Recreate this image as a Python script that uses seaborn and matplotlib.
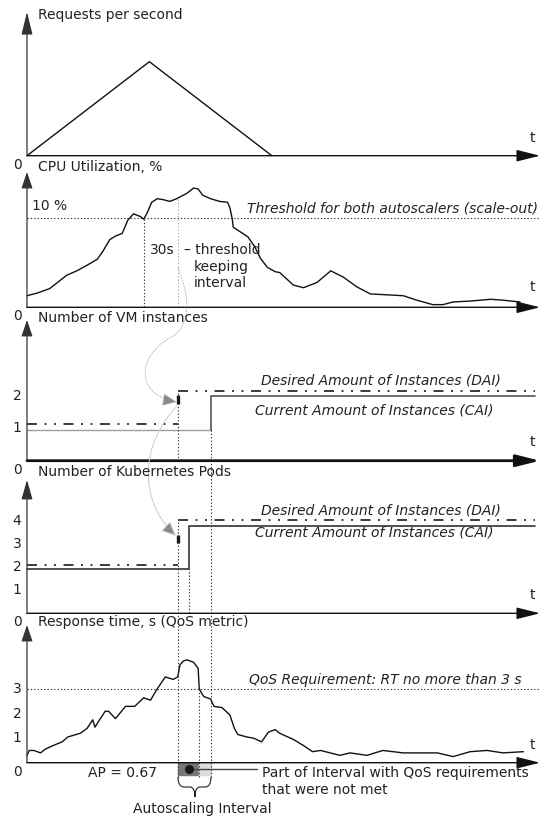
import matplotlib
matplotlib.use('Agg')
import matplotlib.pyplot as plt
from matplotlib.path import Path
from matplotlib.patches import FancyArrowPatch, PathPatch
import seaborn as sns

sns.set_theme(style='white')
plt.rcParams['font.family'] = ['DejaVu Sans']
plt.rcParams['font.size'] = 10

# key moments, seconds
t_cross = 103   # CPU goes over the threshold
t_dai = 133     # +30 s, desired amount changes
t_k8s = 143     # new pods ready
t_rt_ok = 152   # RT back under 3 s
t_vm = 162      # new VM ready
t_end = 448

# requests per second
req_t = [0, 108, 216]
req_val = [0, 100, 0]

# CPU utilization, %
cpu_t = [0, 9, 20, 28, 35, 44, 54, 62, 67, 73, 78, 84, 89, 94, 100, 103, 106, 110, 115, 120,
         126, 132, 141, 147, 151, 155, 162, 170, 177, 179, 181, 182, 188, 195, 201, 206, 212, 219, 223, 235,
         244, 256, 268, 279, 291, 303, 318, 332, 344, 358, 367, 376, 391, 409, 420, 435]
cpu_val = [1.3, 1.6, 2.1, 2.9, 3.6, 4.1, 4.8, 5.4, 6.3, 7.6, 8.0, 8.3, 9.8, 10.5, 10.2, 9.9, 10.6, 11.8, 12.2, 12.1,
           11.9, 12.2, 12.8, 13.4, 13.3, 12.6, 12.2, 11.9, 11.8, 11.2, 10.0, 9.0, 8.5, 7.9, 6.8, 5.5, 4.5, 4.0, 3.9, 2.5,
           2.2, 2.8, 4.1, 3.4, 2.3, 1.5, 1.4, 1.3, 0.8, 0.3, 0.3, 0.6, 0.7, 0.9, 0.8, 0.6]
cpu_threshold = 10
cpu_at_dai = 12.3

# instances
vm_cai_t = [0, t_vm, t_end]
vm_cai = [0.96, 2.0, 2.0]
vm_dai = [1.12, 2.15]
vm_ticks = [1, 2]
k8s_cai_t = [0, t_k8s, t_end]
k8s_cai = [1.92, 3.8, 3.8]
k8s_dai = [2.1, 4.05]
k8s_ticks = [1, 2, 3, 4]

# response time, s
rt_t = [0, 2, 6, 12, 16, 23, 31, 36, 47, 53, 58, 60, 64, 69, 72, 78, 87, 95, 103, 109,
        114, 122, 129, 133, 135, 138, 141, 147, 151, 152, 156, 162, 165, 172, 179, 183, 186, 194, 200, 207,
        213, 219, 223, 235, 244, 252, 259, 276, 285, 300, 314, 332, 347, 362, 376, 391, 406, 420, 438]
rt_val = [0.3, 0.5, 0.5, 0.4, 0.55, 0.7, 0.85, 1.05, 1.2, 1.4, 1.75, 1.45, 1.75, 2.1, 2.1, 1.8, 2.3, 2.3, 2.65, 2.55,
          2.95, 3.5, 3.4, 3.5, 4.0, 4.15, 4.2, 4.1, 3.85, 3.0, 2.7, 2.6, 2.3, 2.25, 1.95, 1.4, 1.15, 1.05, 1.0, 0.85,
          1.25, 1.35, 1.2, 0.95, 0.7, 0.45, 0.5, 0.3, 0.4, 0.3, 0.5, 0.4, 0.4, 0.4, 0.25, 0.45, 0.5, 0.4, 0.45]
rt_req = 3
rt_ticks = [1, 2, 3]
ap = 0.67

W, H = 545, 819
K = 34 / 30      # px per second
X0 = 27          # px of t = 0
X_TIP = (540 - X0) / K
INK = '#222222'
DOT = (0, (1.2, 1.8))
DASHDOT = (0, (6, 4.5, 1.2, 4.5, 1.2, 4.5))

fig = plt.figure(figsize=(W / 100, H / 100), dpi=100)


def panel(top, bottom, y0, unit):
    ax = fig.add_axes([0, 1 - bottom / H, 1, (bottom - top) / H])
    ax.set_xlim(-X0 / K, (W - X0) / K)
    ax.set_ylim((y0 - bottom) / unit, (y0 - top) / unit)
    ax.set_axis_off()
    return ax


def arrows(ax, ytop, xlw=1.0, ylen=1.0):
    ax.annotate('', xy=(0, ytop), xytext=(0, 0),
                arrowprops=dict(arrowstyle=f'-|>,head_length={ylen},head_width=0.34', mutation_scale=10,
                                lw=0.9, color='#333333', shrinkA=0, shrinkB=0))
    ax.annotate('', xy=(X_TIP, 0), xytext=(0, 0),
                arrowprops=dict(arrowstyle='-|>,head_length=1.44,head_width=0.36', mutation_scale=10,
                                lw=xlw, color='#111111', shrinkA=0, shrinkB=0))
    ax.annotate('0', (0, 0), xytext=(-4, -6.5), textcoords='offset points',
                ha='right', va='center', color=INK)


def ticks(ax, vals):
    for v in vals:
        ax.annotate(str(v), (0, v), xytext=(-4, 0), textcoords='offset points',
                    ha='right', va='center', color=INK)


ax1 = panel(0, 163, 155.7, 0.94)
ax2 = panel(163, 315, 307.3, 8.9)
ax3 = panel(315, 468, 460.7, 32.5)
ax4 = panel(468, 620, 613.3, 23)
ax5 = panel(620, 819, 762.7, 24.5)

# requests
sns.lineplot(x=req_t, y=req_val, ax=ax1, color='#111111', lw=1)
arrows(ax1, 153, ylen=1.4)

# CPU
sns.lineplot(x=cpu_t, y=cpu_val, ax=ax2, color='#111111', lw=1, estimator=None, sort=False)
ax2.hlines(cpu_threshold, 0, X_TIP, colors='#333333', lw=0.8, linestyles=[DOT])
ax2.vlines(t_cross, 0, cpu_threshold, colors='#333333', lw=0.8, linestyles=[DOT])
ax2.vlines(t_dai, 0, cpu_at_dai, colors='#aaaaaa', lw=0.8, linestyles=[DOT])
arrows(ax2, 15.2)

# VM instances
ax3.hlines(vm_cai[0], vm_cai_t[0], vm_cai_t[1], colors='#a0a0a0', lw=1)
ax3.plot([vm_cai_t[1], vm_cai_t[1], vm_cai_t[2]], [vm_cai[0], vm_cai[1], vm_cai[2]], color='#555555', lw=1.2)
ax3.hlines(vm_dai, [0, t_dai], [t_dai, t_end], colors='k', lw=1.2, linestyles=[DASHDOT])
ax3.vlines(t_dai, 0, vm_dai[1], colors='#333333', lw=0.8, linestyles=[DOT])
ax3.vlines(t_dai, 1.76, 2.03, colors='k', lw=2.4, zorder=5)
ax3.vlines(t_vm, ax3.get_ylim()[0], vm_cai[0], colors='#333333', lw=0.8, linestyles=[DOT])
arrows(ax3, 4.33, xlw=2.0)
ticks(ax3, vm_ticks)

# Kubernetes pods
ax4.step(k8s_cai_t, k8s_cai, where='post', color='#333333', lw=1.2)
ax4.hlines(k8s_dai, [0, t_dai], [t_dai, t_end], colors='k', lw=1.2, linestyles=[DASHDOT])
ax4.vlines(t_dai, ax4.get_ylim()[0], k8s_dai[1], colors='#333333', lw=0.8, linestyles=[DOT])
ax4.vlines(t_dai, 3.04, 3.42, colors='k', lw=2.4, zorder=5)
ax4.vlines(t_k8s, 0, k8s_cai[0], colors='#333333', lw=0.8, linestyles=[DOT])
ax4.vlines(t_vm, *ax4.get_ylim(), colors='#333333', lw=0.8, linestyles=[DOT])
arrows(ax4, 5.8, ylen=1.2)
ticks(ax4, k8s_ticks)

# response time
sns.lineplot(x=rt_t, y=rt_val, ax=ax5, color='#111111', lw=1, estimator=None, sort=False)
ax5.hlines(rt_req, 0, X_TIP, colors='#333333', lw=0.8, linestyles=[DOT])
ax5.broken_barh([(t_dai, t_rt_ok - t_dai)], (-0.5, 0.5), color='#777777')
ax5.broken_barh([(t_rt_ok, t_vm - t_rt_ok)], (-0.5, 0.5), color='#dddddd')
top5 = ax5.get_ylim()[1]
ax5.vlines([t_dai, t_vm], -0.58, top5, colors='#333333', lw=0.8, linestyles=[DOT])
ax5.vlines(t_rt_ok, -0.58, rt_req, colors='#333333', lw=0.8, linestyles=[DOT])
mid = (t_dai + t_rt_ok) / 2
ax5.plot([mid, 203], [-0.27, -0.27], color='#444444', lw=1)
ax5.plot(mid, -0.27, 'o', color='k', ms=5.5)
arrows(ax5, 5.62)
ticks(ax5, rt_ticks)

# overlay in pixels for text and connectors
ov = fig.add_axes([0, 0, 1, 1])
ov.set_xlim(0, W)
ov.set_ylim(H, 0)
ov.set_axis_off()

titles = [(15, 'Requests per second'), (167, 'CPU Utilization, %'), (318, 'Number of VM instances'),
          (472, 'Number of Kubernetes Pods'), (622, 'Response time, s (QoS metric)')]
for y, s in titles:
    ov.text(38, y, s, ha='left', va='center', color=INK)
for y in [138, 287, 442, 595, 745]:
    ov.text(532, y, 't', ha='center', va='center', color=INK)

ov.text(32, 206, '10 %', ha='left', va='center', color=INK)
ov.text(538, 208, 'Threshold for both autoscalers (scale-out)', ha='right', va='center',
        style='italic', color=INK)
ov.text(150, 250, '30s', ha='left', va='center', color=INK)
ov.text(184, 250, '– threshold', ha='left', va='center', color=INK)
ov.text(194, 267, 'keeping', ha='left', va='center', color=INK)
ov.text(194, 283, 'interval', ha='left', va='center', color=INK)

for y_dai, y_cai in [(380, 411), (511, 533)]:
    ov.text(381, y_dai, 'Desired Amount of Instances (DAI)', ha='center', va='center',
            style='italic', color=INK)
    ov.text(374, y_cai, 'Current Amount of Instances (CAI)', ha='center', va='center',
            style='italic', color=INK)

ov.text(522, 680, 'QoS Requirement: RT no more than 3 s', ha='right', va='center',
        style='italic', color=INK)
ov.text(122, 773, f'AP = {ap}', ha='center', va='center', color=INK)
ov.text(262, 773, 'Part of Interval with QoS requirements', ha='left', va='center', color=INK)
ov.text(262, 790, 'that were not met', ha='left', va='center', color=INK)
ov.text(202, 809, 'Autoscaling Interval', ha='center', va='center', color=INK)

# curved connectors
C = Path.CURVE4
p1 = Path([(178, 268), (185, 285), (195, 318), (175, 335), (135, 355), (135, 395), (177, 402)],
          [Path.MOVETO, C, C, C, C, C, C])
ov.add_patch(FancyArrowPatch(path=p1, arrowstyle='-|>,head_length=0.9,head_width=0.4', mutation_scale=10,
                             ec='#b5b5b5', fc='#888888', lw=0.7, ls=':'))
p2 = Path([(177, 406), (140, 445), (138, 500), (176, 536)], [Path.MOVETO, C, C, C])
ov.add_patch(FancyArrowPatch(path=p2, arrowstyle='-|>,head_length=0.9,head_width=0.4', mutation_scale=10,
                             ec='#cccccc', fc='#888888', lw=0.7))

# brace under the autoscaling interval
Q = Path.CURVE3
brace = Path([(178, 777), (178, 787), (184, 787), (190, 787), (195, 787), (195, 797),
              (195, 787), (200, 787), (205, 787), (211, 787), (211, 777)],
             [Path.MOVETO, Q, Q, Path.LINETO, Q, Q, Q, Q, Path.LINETO, Q, Q])
ov.add_patch(PathPatch(brace, fill=False, lw=0.8, ec='#222222'))

fig.savefig('out.png', dpi=100)
